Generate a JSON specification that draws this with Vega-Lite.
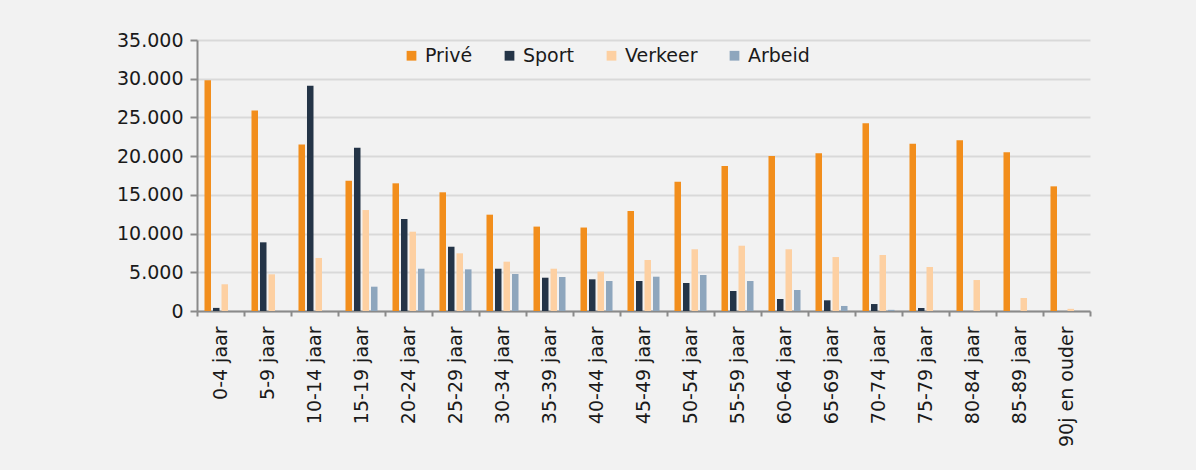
{
  "$schema": "https://vega.github.io/schema/vega-lite/v6.json",
  "width": 893,
  "height": 271,
  "autosize": {"type": "none"},
  "padding": {"left": 197, "top": 40, "right": 106, "bottom": 159},
  "background": "#f2f2f2",
  "config": {
    "view": {"stroke": null},
    "font": "DejaVu Sans",
    "axis": {"labelFont": "DejaVu Sans", "labelColor": "#1a1a1a"},
    "legend": {"labelFont": "DejaVu Sans"}
  },
  "data": {
    "values": [
      {"leeftijd": "0-4 jaar", "soort": "Privé", "aantal": 29800},
      {"leeftijd": "0-4 jaar", "soort": "Sport", "aantal": 400},
      {"leeftijd": "0-4 jaar", "soort": "Verkeer", "aantal": 3450},
      {"leeftijd": "5-9 jaar", "soort": "Privé", "aantal": 25900},
      {"leeftijd": "5-9 jaar", "soort": "Sport", "aantal": 8870},
      {"leeftijd": "5-9 jaar", "soort": "Verkeer", "aantal": 4740},
      {"leeftijd": "10-14 jaar", "soort": "Privé", "aantal": 21500},
      {"leeftijd": "10-14 jaar", "soort": "Sport", "aantal": 29100},
      {"leeftijd": "10-14 jaar", "soort": "Verkeer", "aantal": 6850},
      {"leeftijd": "15-19 jaar", "soort": "Privé", "aantal": 16830},
      {"leeftijd": "15-19 jaar", "soort": "Sport", "aantal": 21090},
      {"leeftijd": "15-19 jaar", "soort": "Verkeer", "aantal": 13040},
      {"leeftijd": "15-19 jaar", "soort": "Arbeid", "aantal": 3140},
      {"leeftijd": "20-24 jaar", "soort": "Privé", "aantal": 16490},
      {"leeftijd": "20-24 jaar", "soort": "Sport", "aantal": 11880},
      {"leeftijd": "20-24 jaar", "soort": "Verkeer", "aantal": 10240},
      {"leeftijd": "20-24 jaar", "soort": "Arbeid", "aantal": 5460},
      {"leeftijd": "25-29 jaar", "soort": "Privé", "aantal": 15330},
      {"leeftijd": "25-29 jaar", "soort": "Sport", "aantal": 8300},
      {"leeftijd": "25-29 jaar", "soort": "Verkeer", "aantal": 7450},
      {"leeftijd": "25-29 jaar", "soort": "Arbeid", "aantal": 5380},
      {"leeftijd": "30-34 jaar", "soort": "Privé", "aantal": 12440},
      {"leeftijd": "30-34 jaar", "soort": "Sport", "aantal": 5460},
      {"leeftijd": "30-34 jaar", "soort": "Verkeer", "aantal": 6370},
      {"leeftijd": "30-34 jaar", "soort": "Arbeid", "aantal": 4780},
      {"leeftijd": "35-39 jaar", "soort": "Privé", "aantal": 10900},
      {"leeftijd": "35-39 jaar", "soort": "Sport", "aantal": 4300},
      {"leeftijd": "35-39 jaar", "soort": "Verkeer", "aantal": 5460},
      {"leeftijd": "35-39 jaar", "soort": "Arbeid", "aantal": 4390},
      {"leeftijd": "40-44 jaar", "soort": "Privé", "aantal": 10780},
      {"leeftijd": "40-44 jaar", "soort": "Sport", "aantal": 4090},
      {"leeftijd": "40-44 jaar", "soort": "Verkeer", "aantal": 5080},
      {"leeftijd": "40-44 jaar", "soort": "Arbeid", "aantal": 3875},
      {"leeftijd": "45-49 jaar", "soort": "Privé", "aantal": 12915},
      {"leeftijd": "45-49 jaar", "soort": "Sport", "aantal": 3875},
      {"leeftijd": "45-49 jaar", "soort": "Verkeer", "aantal": 6590},
      {"leeftijd": "45-49 jaar", "soort": "Arbeid", "aantal": 4430},
      {"leeftijd": "50-54 jaar", "soort": "Privé", "aantal": 16700},
      {"leeftijd": "50-54 jaar", "soort": "Sport", "aantal": 3620},
      {"leeftijd": "50-54 jaar", "soort": "Verkeer", "aantal": 7970},
      {"leeftijd": "50-54 jaar", "soort": "Arbeid", "aantal": 4650},
      {"leeftijd": "55-59 jaar", "soort": "Privé", "aantal": 18730},
      {"leeftijd": "55-59 jaar", "soort": "Sport", "aantal": 2580},
      {"leeftijd": "55-59 jaar", "soort": "Verkeer", "aantal": 8430},
      {"leeftijd": "55-59 jaar", "soort": "Arbeid", "aantal": 3875},
      {"leeftijd": "60-64 jaar", "soort": "Privé", "aantal": 20020},
      {"leeftijd": "60-64 jaar", "soort": "Sport", "aantal": 1550},
      {"leeftijd": "60-64 jaar", "soort": "Verkeer", "aantal": 7970},
      {"leeftijd": "60-64 jaar", "soort": "Arbeid", "aantal": 2710},
      {"leeftijd": "65-69 jaar", "soort": "Privé", "aantal": 20370},
      {"leeftijd": "65-69 jaar", "soort": "Sport", "aantal": 1380},
      {"leeftijd": "65-69 jaar", "soort": "Verkeer", "aantal": 6970},
      {"leeftijd": "65-69 jaar", "soort": "Arbeid", "aantal": 650},
      {"leeftijd": "70-74 jaar", "soort": "Privé", "aantal": 24250},
      {"leeftijd": "70-74 jaar", "soort": "Sport", "aantal": 900},
      {"leeftijd": "70-74 jaar", "soort": "Verkeer", "aantal": 7230},
      {"leeftijd": "70-74 jaar", "soort": "Arbeid", "aantal": 150},
      {"leeftijd": "75-79 jaar", "soort": "Privé", "aantal": 21610},
      {"leeftijd": "75-79 jaar", "soort": "Sport", "aantal": 390},
      {"leeftijd": "75-79 jaar", "soort": "Verkeer", "aantal": 5680},
      {"leeftijd": "80-84 jaar", "soort": "Privé", "aantal": 22040},
      {"leeftijd": "80-84 jaar", "soort": "Verkeer", "aantal": 4000},
      {"leeftijd": "85-89 jaar", "soort": "Privé", "aantal": 20500},
      {"leeftijd": "85-89 jaar", "soort": "Verkeer", "aantal": 1680},
      {"leeftijd": "90j en ouder", "soort": "Privé", "aantal": 16100},
      {"leeftijd": "90j en ouder", "soort": "Verkeer", "aantal": 280}
    ]
  },
  "mark": {"type": "bar"},
  "encoding": {
    "x": {
      "field": "leeftijd",
      "type": "nominal",
      "sort": null,
      "scale": {"paddingInner": 0, "paddingOuter": 0},
      "axis": {
        "title": null,
        "labelAngle": -90,
        "labelFontSize": 19,
        "labelPadding": 10,
        "tickBand": "extent",
        "tickSize": 5,
        "tickWidth": 2,
        "tickColor": "#8a8a8a",
        "domainColor": "#8a8a8a",
        "domainWidth": 2,
        "grid": false
      }
    },
    "xOffset": {
      "field": "soort",
      "type": "nominal",
      "sort": ["Privé", "Sport", "Verkeer", "Arbeid"],
      "scale": {"domain": ["Privé", "Sport", "Verkeer", "Arbeid"], "paddingInner": 0.235, "paddingOuter": 0.88}
    },
    "y": {
      "field": "aantal",
      "type": "quantitative",
      "scale": {"domain": [0, 35000], "nice": false},
      "axis": {
        "title": null,
        "values": [0, 5000, 10000, 15000, 20000, 25000, 30000, 35000],
        "labelExpr": "replace(format(datum.value, ','), ',', '.')",
        "labelFontSize": 19,
        "labelPadding": 7,
        "tickSize": 7,
        "tickWidth": 2,
        "tickColor": "#8a8a8a",
        "domainColor": "#8a8a8a",
        "domainWidth": 2,
        "gridColor": "#d9d9d9",
        "gridWidth": 2
      }
    },
    "color": {
      "field": "soort",
      "type": "nominal",
      "scale": {
        "domain": ["Privé", "Sport", "Verkeer", "Arbeid"],
        "range": ["#f28e1c", "#243447", "#fdd0a2", "#8ea6bd"]
      },
      "legend": {
        "title": null,
        "orient": "none",
        "legendX": 205,
        "legendY": 6,
        "direction": "horizontal",
        "symbolType": "square",
        "symbolSize": 95,
        "symbolStrokeWidth": 0,
        "labelFontSize": 19,
        "labelColor": "#1a1a1a",
        "labelOffset": 4,
        "columnPadding": 27
      }
    }
  }
}
